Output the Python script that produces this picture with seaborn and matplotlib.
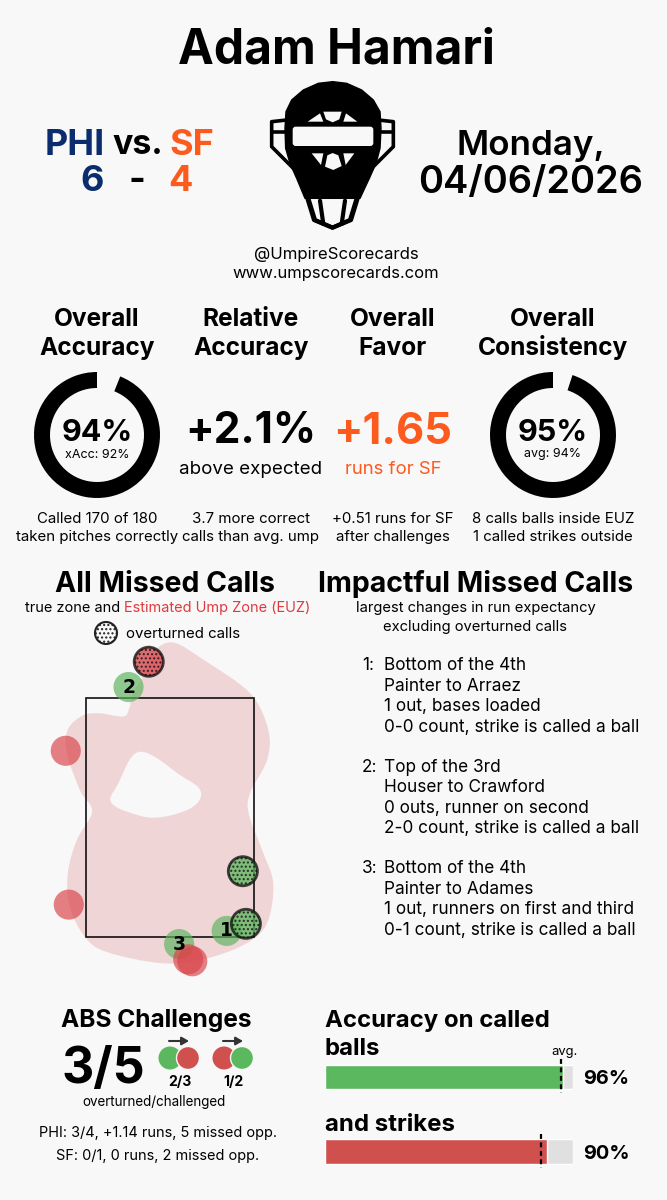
import numpy as np
import pandas as pd
import matplotlib
matplotlib.use("Agg")
import matplotlib.pyplot as plt
import seaborn as sns
from matplotlib.path import Path
from matplotlib.patches import PathPatch, Polygon, Rectangle, Circle, FancyBboxPatch

W, H = 667, 1200
BG = "#f8f8f8"
NAVY = "#0b2d6e"
ORANGE = "#fd5a1e"
GREEN = "#5cb85f"
RED = "#d0504e"

# missed calls, plate coordinates in feet
call_x = [-0.21, -0.41, -1.03, 0.72, -1.00, 0.75, 0.56, 0.09, 0.18, 0.22]
call_z = [4.22, 3.97, 3.34, 2.15, 1.82, 1.63, 1.56, 1.43, 1.28, 1.26]
call_kind = ["ball", "strike", "ball", "strike", "ball", "strike", "strike", "strike", "ball", "ball"]
call_overturned = [True, False, False, True, False, True, False, False, False, False]
call_rank = ["", "2", "", "", "", "", "1", "3", "", ""]

zone_left, zone_right = -0.83, 0.83
zone_bottom, zone_top = 1.50, 3.86

# estimated ump zone outline
euz_x = [0.03, 0.33, 0.79, 0.97, 0.96, 0.79, 0.78, 0.91, 1.02, 0.96, 0.76, 0.37, -0.07, -0.62, -0.84,
         -0.99, -1.01, -0.92, -0.77, -0.89, -1.02, -1.01, -0.86, -0.69, -0.46, -0.40, -0.37, -0.27, -0.17]
euz_z = [4.41, 4.24, 3.91, 3.55, 3.25, 2.92, 2.71, 2.36, 2.03, 1.64, 1.44, 1.29, 1.24, 1.35, 1.50,
         1.80, 2.13, 2.46, 2.74, 2.95, 3.32, 3.55, 3.69, 3.71, 3.68, 3.77, 3.91, 4.07, 4.31]
hole_x = [-0.30, -0.15, 0.10, 0.28, 0.30, 0.20, 0.00, -0.20, -0.40, -0.54, -0.59, -0.51, -0.40]
hole_z = [3.33, 3.28, 3.10, 2.98, 2.87, 2.77, 2.70, 2.68, 2.73, 2.79, 2.87, 3.02, 3.25]

overall_accuracy = 94
consistency = 95

bar_labels = ["balls", "strikes"]
bar_values = [96, 89.5]
bar_avg = [95, 87]

missed_rank = ["1:", "2:", "3:"]
missed_lines = [
    ["Bottom of the 4th", "Painter to Arraez", "1 out, bases loaded", "0-0 count, strike is called a ball"],
    ["Top of the 3rd", "Houser to Crawford", "0 outs, runner on second", "2-0 count, strike is called a ball"],
    ["Bottom of the 4th", "Painter to Adames", "1 out, runners on first and third", "0-1 count, strike is called a ball"],
]

sns.set_theme(style="white", rc={"figure.facecolor": BG, "axes.facecolor": "none", "savefig.facecolor": BG})
plt.rcParams["font.family"] = ["Inter", "DejaVu Sans"]


def px_axes(fig, left, top, right, bottom, zorder=1):
    return fig.add_axes([left / W, 1 - bottom / H, (right - left) / W, (bottom - top) / H], zorder=zorder)


def smooth_closed(xs, ys, flip=False):
    # catmull-rom through the outline points, as bezier segments
    pts = np.column_stack([xs, ys])
    if flip:
        pts = pts[::-1]
    n = len(pts)
    verts = [pts[0]]
    codes = [Path.MOVETO]
    for i in range(n):
        p0, p1, p2, p3 = pts[i - 1], pts[i], pts[(i + 1) % n], pts[(i + 2) % n]
        verts += [p1 + (p2 - p0) / 6, p2 - (p3 - p1) / 6, p2]
        codes += [Path.CURVE4] * 3
    return verts, codes


fig = plt.figure(figsize=(W / 100, H / 100), dpi=100)

# strike zone panel
ax_zone = px_axes(fig, 20, 630, 290, 980)
v1, c1 = smooth_closed(euz_x, euz_z)
v2, c2 = smooth_closed(hole_x, hole_z, flip=True)
ax_zone.add_patch(PathPatch(Path(v1 + v2, c1 + c2), facecolor="#f0d5d6", edgecolor="none"))
ax_zone.add_patch(Rectangle((zone_left, zone_bottom), zone_right - zone_left, zone_top - zone_bottom,
                            fill=False, edgecolor="#111111", linewidth=1.2, zorder=2))
calls = pd.DataFrame({"x": call_x, "z": call_z, "kind": call_kind, "overturned": call_overturned, "rank": call_rank})
palette = {"ball": "#d9454a", "strike": "#5fb45f"}
plt.rcParams["hatch.linewidth"] = 1.0
sns.scatterplot(data=calls[~calls["overturned"]], x="x", y="z", hue="kind", palette=palette, s=470,
                alpha=0.68, linewidth=0, legend=False, ax=ax_zone, zorder=3)
sns.scatterplot(data=calls[calls["overturned"]], x="x", y="z", hue="kind", palette=palette, s=440,
                alpha=0.78, edgecolor="#111111", linewidth=2.0, hatch="....", legend=False, ax=ax_zone, zorder=4)
for _, row in calls[calls["rank"] != ""].iterrows():
    ax_zone.text(row["x"], row["z"], row["rank"], ha="center", va="center", fontsize=13.5,
                 fontweight="bold", family="DejaVu Sans", color="black", zorder=5)
ax_zone.set_xlim((20 - 170) / 101.2, (290 - 170) / 101.2)
ax_zone.set_ylim(1.5 + (937 - 980) / 101.2, 1.5 + (937 - 630) / 101.2)
ax_zone.axis("off")

# donuts
for cx, val in [(97, overall_accuracy), (553, consistency)]:
    ax_d = px_axes(fig, cx - 70, 435 - 70, cx + 70, 435 + 70)
    ax_d.pie([val, 100 - val], colors=["black", "none"], startangle=90, radius=63 / 70,
             wedgeprops={"width": 16 / 70, "linewidth": 0})
    ax_d.set_xlim(-1, 1)
    ax_d.set_ylim(-1, 1)

# accuracy bars
ax_bar = px_axes(fig, 325, 1039.75, 573, 1188.75)
bars = pd.DataFrame({"label": bar_labels, "value": bar_values, "avg": bar_avg, "full": [100, 100]})
sns.barplot(data=bars, y="label", x="full", color="#e0e0e0", width=0.33, ax=ax_bar, saturation=1)
sns.barplot(data=bars, y="label", x="value", hue="label", palette=[GREEN, RED], width=0.33, ax=ax_bar,
            saturation=1, legend=False)
for i, a in enumerate(bar_avg):
    ax_bar.plot([a, a], [i - 0.235, i + 0.22], color="black", linewidth=1.6, linestyle=(0, (2.2, 1.6)))
ax_bar.set_xlim(0, 100)
ax_bar.set_ylim(1.5, -0.5)
ax_bar.axis("off")

# everything else is drawn on a pixel canvas
ax = px_axes(fig, 0, 0, W, H, zorder=10)
ax.set_xlim(0, W)
ax.set_ylim(H, 0)
ax.axis("off")


def t(x, y, s, size, weight="normal", color="black", ha="center", **kw):
    # y is the middle of the capitals, so lines with descenders do not jump
    ax.text(x, y + 0.36 * size, s, fontsize=size * 0.72, fontweight=weight, color=color, ha=ha, va="baseline", **kw)


t(336, 46, "Adam Hamari", 48, "bold")
t(75, 142, "PHI", 36, "bold", NAVY)
t(138, 142, "vs.", 34, "bold")
t(192, 142, "SF", 36, "bold", ORANGE)
t(92, 178, "6", 36, "bold", NAVY)
t(137, 178, "-", 36, "bold")
t(180, 178, "4", 36, "bold", ORANGE)
t(531, 142, "Monday,", 35, "semibold")
t(531, 179, "04/06/2026", 38, "semibold")
t(336, 253, "@UmpireScorecards", 16.8)
t(336, 272, "www.umpscorecards.com", 16.6)

for cx, a, b in [(97, "Overall", "Accuracy"), (251, "Relative", "Accuracy"), (393, "Overall", "Favor"),
                 (553, "Overall", "Consistency")]:
    t(cx, 317, a, 24.5, "bold")
    t(cx, 346, b, 24.5, "bold")

t(97, 430, "94%", 30.5, "bold")
t(97, 453, "xAcc: 92%", 12.5)
t(553, 430, "95%", 30.5, "bold")
t(553, 453, "avg: 94%", 12.5)
t(251, 428, "+2.1%", 42.5, "bold")
t(251, 467, "above expected", 18.7)
t(393, 428, "+1.65", 43.5, "bold", ORANGE)
t(393, 467, "runs for SF", 18.5, "normal", ORANGE)

for cx, a, b in [(97, "Called 170 of 180", "taken pitches correctly"), (251, "3.7 more correct", "calls than avg. ump"),
                 (393, "+0.51 runs for SF", "after challenges"), (553, "8 calls balls inside EUZ", "1 called strikes outside")]:
    t(cx, 518, a, 15)
    t(cx, 536, b, 15)

t(165, 582, "All Missed Calls", 28.4, "bold")
t(476, 582, "Impactful Missed Calls", 28.4, "bold")
t(25, 607, "true zone and", 14.5, ha="left")
t(124, 607, "Estimated Ump Zone (EUZ)", 14.5, color="#e0393e", ha="left")
t(476, 607, "largest changes in run expectancy", 14.7)
t(475, 626, "excluding overturned calls", 14.7)
t(126, 633, "overturned calls", 15, ha="left")
ax.add_patch(Circle((106, 633), 11, facecolor="#f8f8f8", edgecolor="#222222", linewidth=1.5, hatch="...."))

for k, (rank, lines) in enumerate(zip(missed_rank, missed_lines)):
    top = 664 + k * 101.5
    t(362, top, rank, 17.2, ha="left")
    for j, line in enumerate(lines):
        t(384, top + j * 20.6, line, 17.2, ha="left")

t(156, 1018, "ABS Challenges", 24.5, "bold")
t(103, 1065, "3/5", 50, "bold")
t(154, 1101, "overturned/challenged", 13.4)
t(158, 1132, "PHI: 3/4, +1.14 runs, 5 missed opp.", 14.5)
t(158, 1155, "SF: 0/1, 0 runs, 2 missed opp.", 14.5)
t(180, 1081, "2/3", 14, "bold")
t(233, 1081, "1/2", 14, "bold")
for x0, col_back, col_front in [(170, GREEN, RED), (224, RED, GREEN)]:
    ax.add_patch(Circle((x0, 1058), 11.5, facecolor=col_back, edgecolor="none"))
    ax.add_patch(Circle((x0 + 18, 1058), 11.5, facecolor=col_front, edgecolor=BG, linewidth=1))
    ax.annotate("", xy=(x0 + 19, 1041), xytext=(x0 - 1, 1041),
                arrowprops={"arrowstyle": "-|>,head_width=0.2,head_length=0.35", "color": "#333333", "lw": 1.5,
                            "shrinkA": 0, "shrinkB": 0})

t(325, 1018, "Accuracy on called", 24, "bold", ha="left")
t(325, 1046, "balls", 24, "bold", ha="left")
t(325, 1122, "and strikes", 24, "bold", ha="left")
t(565, 1050, "avg.", 13)
t(583, 1077, "96%", 20, "bold", ha="left")
t(583, 1152, "90%", 20, "bold", ha="left")

def mask_pts(pts):
    return [(240 + x / 3, 70 + y / 3) for x, y in pts]


def mirror(pts):
    return [(665 - x, y) for x, y in pts]


body = [(278, 35), (235, 40), (190, 60), (155, 90), (138, 125), (135, 175), (137, 235), (150, 280), (170, 325),
        (195, 385), (360, 385), (388, 325), (408, 280), (420, 235), (423, 175), (420, 125), (400, 90), (365, 60), (320, 40)]
ax.add_patch(Polygon(mask_pts(body), closed=True, facecolor="black", edgecolor="black", linewidth=1, joinstyle="round"))
band = mask_pts([(158, 170), (400, 170), (400, 228), (158, 228)])
ax.add_patch(FancyBboxPatch(band[0], band[1][0] - band[0][0], band[2][1] - band[0][1],
                            boxstyle="round,pad=0,rounding_size=3", facecolor=BG, edgecolor="none"))
openings = [
    [(203, 155), (240, 130), (250, 155)],
    [(352, 155), (318, 130), (310, 155)],
    [(250, 125), (305, 125), (298, 148), (278, 157), (258, 148)],
    [(215, 250), (250, 250), (243, 285)],
    [(343, 250), (310, 250), (317, 285)],
    [(262, 256), (278, 249), (295, 256), (305, 288), (280, 300), (255, 290)],
]
for pts in openings:
    ax.add_patch(Polygon(mask_pts(pts), closed=True, facecolor=BG, edgecolor="none"))
for ear in [[(140, 150), (95, 155), (95, 230), (165, 300)], [(100, 187), (135, 187)]]:
    px = mask_pts(ear)
    for line in (px, mirror(px)):
        ax.plot(*zip(*line), color="black", linewidth=2.6, solid_joinstyle="round")
for cage in [[(205, 385), (225, 450), (278, 473), (333, 450), (353, 385)], [(240, 392), (250, 462)]]:
    px = mask_pts(cage)
    for line in (px, mirror(px)):
        ax.plot(*zip(*line), color="black", linewidth=3, solid_joinstyle="round")

fig.savefig("out.png", dpi=100)
